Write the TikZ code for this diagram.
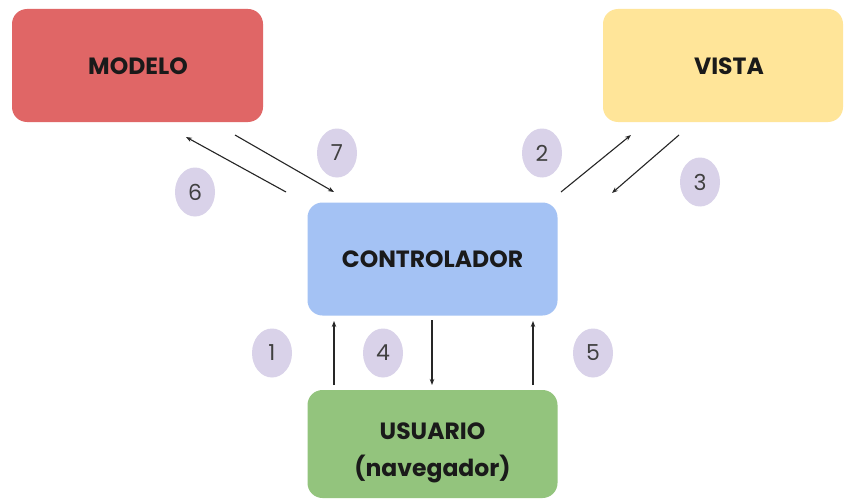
\documentclass[tikz,border=0pt]{standalone}
\usepackage{fontspec}
\setmainfont{Poppins}
\usetikzlibrary{arrows.meta,shapes.geometric}
\definecolor{modelocol}{HTML}{E06666}
\definecolor{vistacol}{HTML}{FFE599}
\definecolor{ctrlcol}{HTML}{A4C2F4}
\definecolor{usercol}{HTML}{93C47D}
\definecolor{stepcol}{HTML}{D9D2E9}
\definecolor{inkcol}{HTML}{1A1A1A}
\tikzset{
  block/.style={rectangle, rounded corners=15pt, draw=none, inner sep=0pt,
    minimum width=251pt, minimum height=113pt},
  blocktext/.style={text=inkcol, font=\fontsize{23.5}{37}\selectfont\bfseries, align=center},
  stepnum/.style={ellipse, fill=stepcol, minimum width=40pt, minimum height=49pt,
    inner sep=0pt, text=black!75, font=\fontsize{22}{22}\selectfont},
  flow/.style={line width=1.1pt, draw=black!85,
    -{Stealth[length=6pt,width=4.5pt]}},
}
\begin{document}
\begin{tikzpicture}[x=1pt,y=-1pt]
  \useasboundingbox (0,0) rectangle (845,500);
  \fill[white] (0,0) rectangle (845,500);

  % boxes
  \node[block, fill=modelocol] (modelo) at (137.5,65.5) {};
  \node[blocktext] (modelotxt) at (138,66) {MODELO};
  \node[block, fill=vistacol, minimum width=240pt] (vista) at (723,65.5) {};
  \node[blocktext] (vistatxt) at (729,66) {VISTA};
  \node[block, fill=ctrlcol, minimum width=250pt] (ctrl) at (432.5,259) {};
  \node[blocktext] (ctrltxt) at (432.5,259) {CONTROLADOR};
  \node[block, fill=usercol, minimum width=250pt, minimum height=108pt] (user) at (432.5,444) {};
  \node[blocktext] (usertxt) at (432.5,453) {USUARIO\\(navegador)};

  % arrow end points
  \coordinate (a6s) at (286,192);
  \coordinate (a6e) at (186,137);
  \coordinate (a7s) at (235,135);
  \coordinate (a7e) at (334,192);
  \coordinate (a2s) at (561,192);
  \coordinate (a2e) at (631,135);
  \coordinate (a3s) at (679,135);
  \coordinate (a3e) at (612,193);
  \coordinate (a1s) at (334,385);
  \coordinate (a1e) at (334,321);
  \coordinate (a4s) at (432,320);
  \coordinate (a4e) at (432,385);
  \coordinate (a5s) at (533,385);
  \coordinate (a5e) at (533,321);

  \draw[flow] (a6s) -- (a6e);
  \draw[flow] (a7s) -- (a7e);
  \draw[flow] (a2s) -- (a2e);
  \draw[flow] (a3s) -- (a3e);
  \draw[flow] (a1s) -- (a1e);
  \draw[flow] (a4s) -- (a4e);
  \draw[flow] (a5s) -- (a5e);

  % step numbers
  \node[stepnum] (n7) at (337,153) {7};
  \node[stepnum] (n6) at (195,192) {6};
  \node[stepnum] (n2) at (542,153) {2};
  \node[stepnum] (n3) at (700,182) {3};
  \node[stepnum] (n1) at (272,353) {1};
  \node[stepnum] (n4) at (383,353) {4};
  \node[stepnum] (n5) at (593,353) {5};
\end{tikzpicture}
\end{document}
